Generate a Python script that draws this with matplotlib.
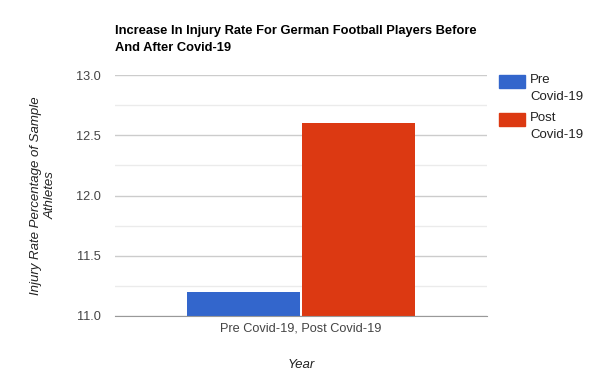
import matplotlib
matplotlib.use("Agg")
import matplotlib.pyplot as plt
from matplotlib.ticker import MultipleLocator
from matplotlib.patches import Rectangle

plt.rcParams['font.family'] = ['Liberation Sans', 'DejaVu Sans']

title = "Increase In Injury Rate For German Football Players Before\nAnd After Covid-19"
category = "Pre Covid-19, Post Covid-19"
series = ["Pre\nCovid-19", "Post\nCovid-19"]
values = [11.2, 12.6]
colors = ["#3366cc", "#dc3912"]
yticks = [11.0, 11.5, 12.0, 12.5, 13.0]

fig = plt.figure(figsize=(6, 3.9), dpi=100)
ax = fig.add_axes([115/600, 1-316/390, 372/600, 241/390])

w = 0.306
offsets = [-w/2 - 0.0015, w/2 + 0.0015]
for name, v, c, off in zip(series, values, colors, offsets):
    ax.bar(off, v - 11.0, bottom=11.0, width=w, color=c, label=name, zorder=3)

ax.set_xlim(-0.5, 0.5)
ax.set_ylim(11.0, 13.0)
ax.set_yticks(yticks)
ax.set_yticklabels([f"{t:.1f}" for t in yticks])
ax.yaxis.set_minor_locator(MultipleLocator(0.25))
ax.grid(True, which='major', axis='y', color='#cccccc', lw=1, zorder=0)
ax.grid(True, which='minor', axis='y', color='#ebebeb', lw=1, zorder=0)
ax.set_xticks([0])
ax.set_xticklabels([category])
for s in ['top', 'right', 'left']:
    ax.spines[s].set_visible(False)
ax.spines['bottom'].set_color('#999999')
ax.spines['bottom'].set_zorder(4)
ax.tick_params(axis='both', which='both', length=0, labelsize=9.2, colors='#444444')
ax.tick_params(axis='y', pad=10)
ax.tick_params(axis='x', pad=5)

ax.set_ylabel("Injury Rate Percentage of Sample\nAthletes", fontstyle='italic', fontsize=9.5,
              color='#222222', labelpad=14, linespacing=1.3)
ax.set_xlabel("Year", fontstyle='italic', fontsize=9.5, color='#222222', labelpad=17)

fig.text(115/600, 1-25/390, title, fontsize=9.3, fontweight='bold', color='#000000',
         va='top', ha='left', linespacing=1.6)

# legend drawn with the first text line aligned to the colour swatch
leg_top = 75
for i, (name, c) in enumerate(zip(series, colors)):
    y0 = leg_top + i * 38
    fig.patches.append(Rectangle((499/600, 1-(y0+13)/390), 26/600, 13/390,
                                 transform=fig.transFigure, color=c, figure=fig))
    fig.text(530/600, 1-(y0-1)/390, name, fontsize=9.5, color='#222222',
             va='top', ha='left', linespacing=1.6)

fig.savefig("out.png", dpi=100)
